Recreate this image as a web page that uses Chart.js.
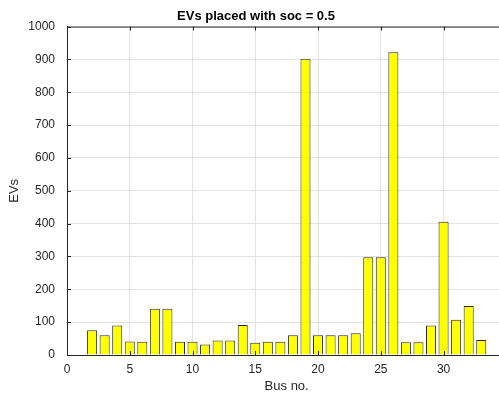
<!DOCTYPE html>
<html>
<head>
<meta charset="utf-8">
<script src="https://cdn.jsdelivr.net/npm/chart.js@4/dist/chart.umd.min.js"></script>
<style>
  html, body { margin: 0; padding: 0; background: #fff; overflow: hidden; }
  #wrap { width: 499px; height: 394px; overflow: hidden; }
</style>
</head>
<body>
<div id="wrap"><canvas id="chart" width="520" height="394"></canvas></div>
<script>
const busNo = [2, 3, 4, 5, 6, 7, 8, 9, 10, 11, 12, 13, 14, 15, 16, 17,
               18, 19, 20, 21, 22, 23, 24, 25, 26, 27, 28, 29, 30, 31, 32, 33];
const evs = [75, 60, 90, 41, 40, 141, 141, 40, 40, 32, 44, 44, 91, 37, 40, 40,
             60, 902, 60, 60, 60, 66, 298, 298, 922, 39, 39, 90, 406, 107, 149, 46];
const xTicks = [0, 5, 10, 15, 20, 25, 30, 35];
const yTicks = [0, 100, 200, 300, 400, 500, 600, 700, 800, 900, 1000];

const TEXT = '#262626';
const FONT = 'Liberation Sans, Arial, Helvetica, sans-serif';

// matlab style box + inward tick marks
const axesBox = {
    id: 'axesBox',
    afterDraw(chart) {
        const ctx = chart.ctx;
        const a = chart.chartArea;
        const xs = chart.scales.x, ys = chart.scales.y;
        ctx.save();
        ctx.strokeStyle = TEXT;
        ctx.lineWidth = 1;
        ctx.beginPath();
        ctx.moveTo(a.left, a.top + 0.5);
        ctx.lineTo(a.right, a.top + 0.5);
        yTicks.forEach(v => {
            const y = Math.round(ys.getPixelForValue(v)) + 0.5;
            ctx.moveTo(a.left, y);
            ctx.lineTo(a.left + 4, y);
        });
        xTicks.forEach(v => {
            const x = Math.round(xs.getPixelForValue(v)) + 0.5;
            ctx.moveTo(x, a.bottom);
            ctx.lineTo(x, a.bottom - 4);
            ctx.moveTo(x, a.top);
            ctx.lineTo(x, a.top + 4);
        });
        ctx.stroke();
        ctx.restore();
    }
};

new Chart(document.getElementById('chart'), {
    type: 'bar',
    data: {
        datasets: [{
            label: 'EVs',
            data: busNo.map((b, i) => ({ x: b, y: evs[i] })),
            backgroundColor: '#ffff00',
            borderColor: '#2a2a2a',
            borderWidth: 1,
            barPercentage: 0.8,
            categoryPercentage: 1.0
        }]
    },
    options: {
        responsive: false,
        animation: false,
        layout: { padding: { left: 0, right: 8, top: 0, bottom: 0 } },
        plugins: {
            legend: { display: false },
            tooltip: { enabled: false },
            title: {
                display: true,
                text: 'EVs placed with soc = 0.5',
                color: '#000',
                font: { family: FONT, size: 13, weight: 'bold' },
                padding: { top: 9, bottom: 2 }
            }
        },
        scales: {
            x: {
                type: 'linear',
                min: 0,
                max: 35,
                offset: false,
                grid: { color: '#e3e3e3', offset: false, drawTicks: false },
                border: { color: TEXT },
                afterBuildTicks: s => { s.ticks = xTicks.map(v => ({ value: v })); },
                afterFit: s => { s.height = 39; },
                ticks: { color: TEXT, font: { family: FONT, size: 12 }, padding: 7, maxRotation: 0,
                         callback: v => String(v) },
                title: {
                    display: true, text: 'Bus no.', color: TEXT,
                    font: { family: FONT, size: 13 }, padding: { top: 3, bottom: 0 }
                }
            },
            y: {
                min: 0,
                max: 1000,
                grid: { color: '#e3e3e3', drawTicks: false },
                border: { color: TEXT },
                afterBuildTicks: s => { s.ticks = yTicks.map(v => ({ value: v })); },
                afterFit: s => { s.width = 67; },
                ticks: { color: TEXT, font: { family: FONT, size: 12 }, padding: 12,
                         callback: v => String(v) },
                title: {
                    display: true, text: 'EVs', color: TEXT,
                    font: { family: FONT, size: 13 }, padding: { top: 7, bottom: 5 }
                }
            }
        }
    },
    plugins: [axesBox]
});
</script>
</body>
</html>
